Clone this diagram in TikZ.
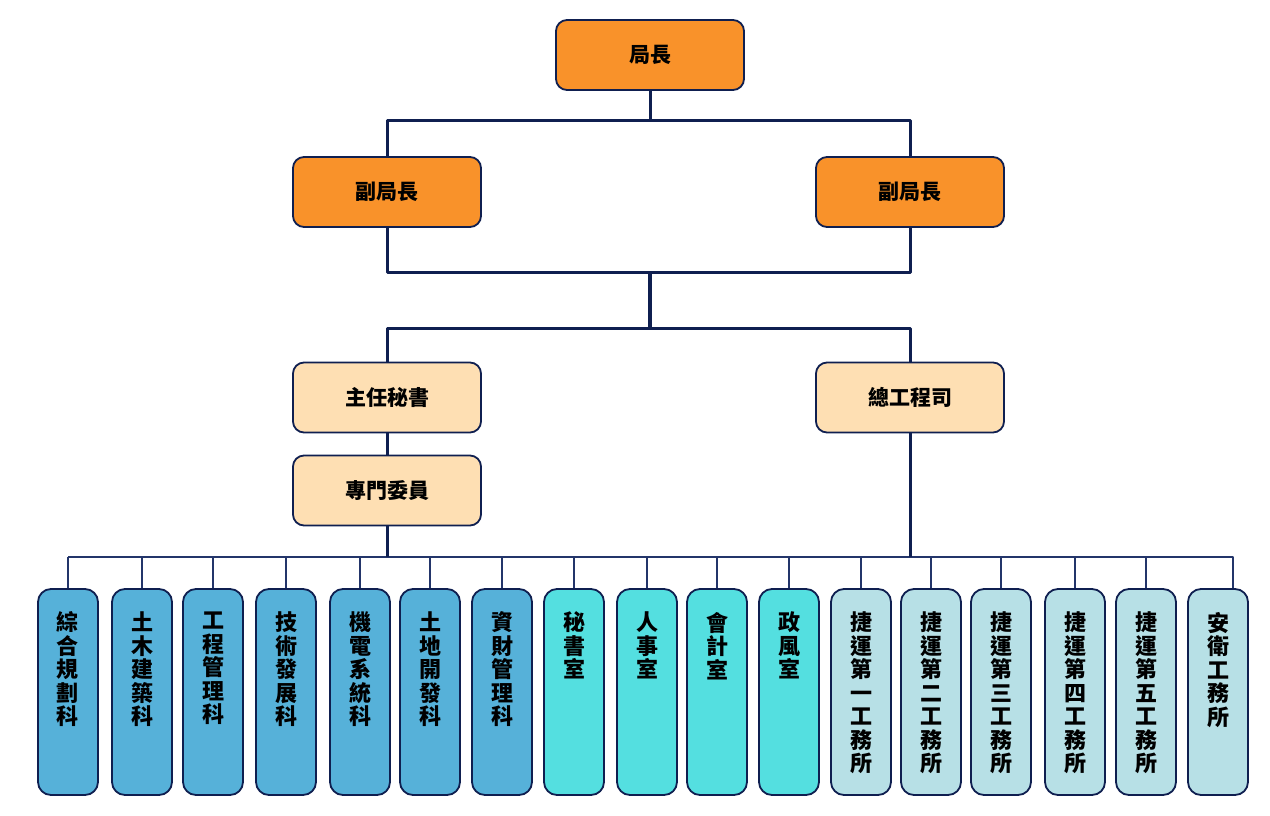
\documentclass[tikz,border=0pt]{standalone}
\usepackage{fontspec}
\newfontfamily\cjk{Noto Sans CJK TC}
\definecolor{navy}{HTML}{0F1F50}
\definecolor{busnavy}{HTML}{23356A}
\definecolor{leadfill}{HTML}{F9922A}
\definecolor{peach}{HTML}{FEDFB3}
\definecolor{secblue}{HTML}{56B1D9}
\definecolor{offcyan}{HTML}{54DFE0}
\definecolor{sitepale}{HTML}{B7E0E6}
\newcommand\vcol[1]{\parbox[c][206pt][t]{40pt}{\centering\vspace*{23pt}\cjk\bfseries\fontsize{22}{23.5}\selectfont #1}}
\tikzset{
  box/.style={draw=navy, line width=1.8pt, rounded corners=11pt, minimum width=188, minimum height=70, inner sep=0pt, font=\cjk\bfseries\fontsize{21}{24}\selectfont},
  lead/.style={box, fill=leadfill},
  staff/.style={box, fill=peach},
  unit/.style={draw=navy, line width=1.8pt, rounded corners=13pt, minimum width=60, minimum height=206, inner sep=0pt},
  link/.style={draw=navy, line width=3pt},
  bus/.style={draw=busnavy, line width=1.6pt}
}
\begin{document}
\begin{tikzpicture}[x=1pt, y=-1pt, line join=round]
\useasboundingbox (0,0) rectangle (1270,816);
\node[lead] (dg) at (650,55) {局長};
\node[lead] (dgl) at (387,192) {副局長};
\node[lead] (dgr) at (910,192) {副局長};
\node[staff] (cs) at (387,397.5) {主任秘書};
\node[staff] (sp) at (387,490.5) {專門委員};
\node[staff] (ce) at (910,397.5) {總工程司};
\coordinate (j1) at (650,120);
\coordinate (j2) at (650,272);
\coordinate (j3) at (650,328);
\coordinate (bus) at (650,557);
\draw[link] (dg.south) -- (j1);
\draw[link] (dgl.north) |- (j1) -| (dgr.north);
\draw[link] (dgl.south) |- (j2) -| (dgr.south);
\draw[link, line width=3.6pt] (j2) -- (j3);
\draw[link] (cs.north) |- (j3) -| (ce.north);
\draw[link] (cs) -- (sp);
% 各科室
\foreach \i/\x/\c/\t in {
  1/68/secblue/{綜\\合\\規\\劃\\科},
  2/142/secblue/{土\\木\\建\\築\\科},
  3/213/secblue/{工\\程\\管\\理\\科},
  4/286/secblue/{技\\術\\發\\展\\科},
  5/360/secblue/{機\\電\\系\\統\\科},
  6/430/secblue/{土\\地\\開\\發\\科},
  7/502/secblue/{資\\財\\管\\理\\科},
  8/574/offcyan/{秘\\書\\室},
  9/647/offcyan/{人\\事\\室},
  10/717/offcyan/{會\\計\\室},
  11/789/offcyan/{政\\風\\室},
  12/861/sitepale/{捷\\運\\第\\一\\工\\務\\所},
  13/931/sitepale/{捷\\運\\第\\二\\工\\務\\所},
  14/1001/sitepale/{捷\\運\\第\\三\\工\\務\\所},
  15/1075/sitepale/{捷\\運\\第\\四\\工\\務\\所},
  16/1146/sitepale/{捷\\運\\第\\五\\工\\務\\所},
  17/1218/sitepale/{安\\衛\\工\\務\\所}}
{
  \node[unit, fill=\c] (u\i) at (\x,692) {\vcol{\t}};
}
\foreach \i in {1,...,16}
  \draw[bus] (u\i.north) -- (u\i.north |- bus);
\coordinate (u17top) at ([xshift=15pt]u17.north); % last drop sits right of centre
\draw[bus] (u1.north |- bus) -| (u17top);
\draw[link] (sp.south) -- (sp.south |- bus);
\draw[link] (ce.south) -- (ce.south |- bus);
\end{tikzpicture}
\end{document}
